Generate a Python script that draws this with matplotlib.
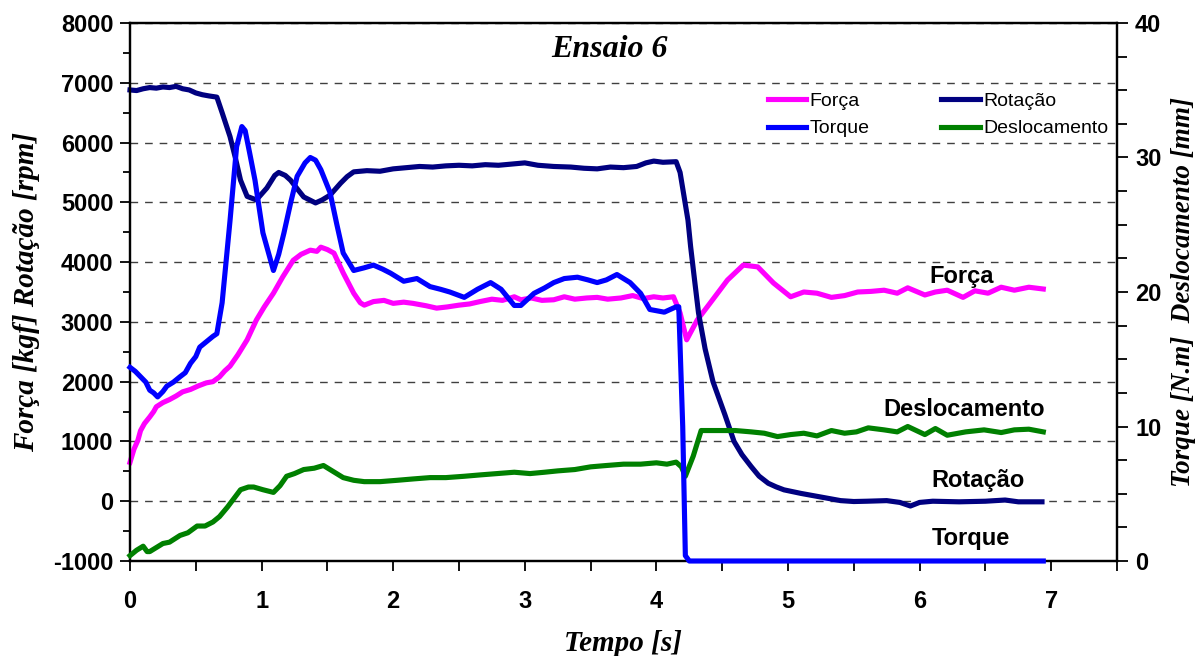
import numpy as np
import matplotlib
matplotlib.use("Agg")
import matplotlib.pyplot as plt
from matplotlib.ticker import MultipleLocator

plt.rcParams['font.family'] = ['Liberation Sans', 'DejaVu Sans']
plt.rcParams['font.weight'] = 'bold'
plt.rcParams['axes.unicode_minus'] = False

# Força [kgf] (left axis)
t_forca = [0.00, 0.03, 0.06, 0.08, 0.11, 0.15, 0.18, 0.20, 0.25, 0.30,
           0.35, 0.40, 0.46, 0.52, 0.58, 0.63, 0.68, 0.72, 0.76, 0.82,
           0.89, 0.96, 1.02, 1.09, 1.16, 1.24, 1.30, 1.37, 1.42, 1.45,
           1.50, 1.55, 1.62, 1.70, 1.75, 1.78, 1.85, 1.93, 2.00, 2.08,
           2.15, 2.25, 2.33, 2.41, 2.50, 2.58, 2.66, 2.75, 2.83, 2.92,
           2.97, 3.05, 3.13, 3.22, 3.30, 3.38, 3.47, 3.55, 3.63, 3.73,
           3.82, 3.90, 3.98, 4.05, 4.13, 4.18, 4.23, 4.31, 4.41, 4.54,
           4.66, 4.77, 4.89, 5.02, 5.12, 5.22, 5.33, 5.43, 5.53, 5.63,
           5.73, 5.83, 5.91, 6.04, 6.12, 6.21, 6.33, 6.42, 6.52, 6.62,
           6.72, 6.83, 6.94]
forca = [650, 870, 1020, 1180, 1300, 1410, 1500, 1580, 1650, 1700,
         1760, 1830, 1870, 1930, 1980, 2000, 2080, 2180, 2260, 2450,
         2700, 3030, 3250, 3480, 3750, 4030, 4130, 4200, 4180, 4250,
         4210, 4150, 3820, 3480, 3320, 3280, 3340, 3360, 3310, 3330,
         3310, 3270, 3230, 3250, 3280, 3300, 3340, 3380, 3360, 3420,
         3370, 3400, 3360, 3370, 3420, 3380, 3400, 3410, 3380, 3400,
         3440, 3390, 3420, 3400, 3420, 3150, 2700, 3030, 3320, 3700,
         3950, 3920, 3650, 3420, 3500, 3480, 3410, 3440, 3500, 3510,
         3530, 3480, 3570, 3450, 3500, 3530, 3410, 3520, 3480, 3580,
         3530, 3580, 3550]

# Rotação [rpm] (left axis)
t_rot = [0.00, 0.05, 0.10, 0.15, 0.20, 0.25, 0.30, 0.35, 0.40, 0.45,
         0.50, 0.55, 0.60, 0.66, 0.70, 0.76, 0.80, 0.84, 0.89, 0.96,
         1.04, 1.10, 1.13, 1.18, 1.22, 1.28, 1.32, 1.41, 1.46, 1.52,
         1.60, 1.65, 1.70, 1.80, 1.90, 2.00, 2.10, 2.20, 2.30, 2.40,
         2.50, 2.60, 2.70, 2.80, 2.90, 3.00, 3.10, 3.22, 3.35, 3.45,
         3.55, 3.65, 3.75, 3.85, 3.92, 3.98, 4.05, 4.15, 4.18, 4.21,
         4.24, 4.26, 4.29, 4.32, 4.37, 4.43, 4.52, 4.59, 4.65, 4.72,
         4.78, 4.85, 4.91, 4.97, 5.10, 5.25, 5.40, 5.50, 5.60, 5.75,
         5.85, 5.93, 6.00, 6.10, 6.30, 6.50, 6.65, 6.75, 6.93]
rot = [6880, 6870, 6900, 6920, 6910, 6930, 6920, 6940, 6900, 6880,
       6830, 6800, 6780, 6760, 6500, 6100, 5750, 5370, 5100, 5040,
       5240, 5450, 5500, 5450, 5370, 5200, 5090, 4990, 5040, 5120,
       5320, 5430, 5510, 5530, 5520, 5560, 5580, 5600, 5590, 5610,
       5620, 5610, 5630, 5620, 5640, 5660, 5620, 5600, 5590, 5570,
       5560, 5590, 5580, 5600, 5660, 5690, 5670, 5680, 5500, 5100,
       4700, 4260, 3700, 3150, 2550, 2000, 1450, 1000, 780, 580,
       420, 300, 240, 190, 130, 70, 10, -5, 0, 10,
       -20, -80, -20, 0, -10, 0, 20, -10, -10]

# Torque [N.m] (right axis)
t_torque = [0.00, 0.04, 0.08, 0.12, 0.15, 0.18, 0.21, 0.25, 0.28, 0.33,
            0.38, 0.42, 0.46, 0.50, 0.53, 0.58, 0.63, 0.66, 0.70, 0.76,
            0.81, 0.85, 0.875, 0.91, 0.95, 1.01, 1.09, 1.13, 1.17, 1.22,
            1.27, 1.33, 1.37, 1.41, 1.45, 1.52, 1.57, 1.62, 1.70, 1.78,
            1.85, 1.92, 1.98, 2.08, 2.18, 2.28, 2.36, 2.43, 2.54, 2.64,
            2.74, 2.82, 2.92, 2.97, 3.07, 3.15, 3.22, 3.30, 3.40, 3.48,
            3.55, 3.62, 3.70, 3.80, 3.88, 3.95, 4.06, 4.15, 4.17, 4.20,
            4.22, 4.25, 4.30, 6.94]
torque = [14.4, 14.1, 13.7, 13.3, 12.7, 12.5, 12.2, 12.6, 13.0, 13.3,
          13.7, 14.0, 14.7, 15.2, 15.9, 16.3, 16.7, 16.9, 19.2, 25.3,
          30.8, 32.3, 32.0, 30.3, 28.3, 24.4, 21.6, 22.8, 24.4, 26.6,
          28.6, 29.6, 30.0, 29.8, 29.1, 27.4, 25.1, 22.9, 21.6, 21.8,
          22.0, 21.7, 21.4, 20.8, 21.0, 20.4, 20.2, 20.0, 19.6, 20.2,
          20.7, 20.2, 19.0, 19.0, 19.9, 20.3, 20.7, 21.0, 21.1, 20.9,
          20.7, 20.9, 21.3, 20.7, 19.9, 18.7, 18.5, 18.9, 18.9, 10.0,
          0.4, 0.0, 0.0, 0.0]

# Deslocamento [mm] (right axis)
t_desl = [0.00, 0.05, 0.10, 0.13, 0.15, 0.20, 0.25, 0.30, 0.38, 0.44,
          0.51, 0.57, 0.63, 0.68, 0.74, 0.84, 0.90, 0.94, 1.01, 1.09,
          1.14, 1.19, 1.25, 1.32, 1.40, 1.47, 1.52, 1.57, 1.62, 1.70,
          1.78, 1.90, 2.03, 2.15, 2.28, 2.40, 2.54, 2.66, 2.79, 2.92,
          3.04, 3.15, 3.25, 3.38, 3.50, 3.62, 3.75, 3.88, 4.00, 4.08,
          4.15, 4.19, 4.22, 4.28, 4.34, 4.46, 4.60, 4.72, 4.82, 4.92,
          5.02, 5.12, 5.22, 5.33, 5.43, 5.52, 5.61, 5.73, 5.83, 5.91,
          6.04, 6.12, 6.21, 6.35, 6.49, 6.62, 6.72, 6.83, 6.94]
desl = [0.4, 0.8, 1.1, 0.7, 0.7, 1.0, 1.3, 1.4, 1.9, 2.1,
        2.6, 2.6, 2.9, 3.3, 4.0, 5.3, 5.5, 5.5, 5.3, 5.1,
        5.6, 6.3, 6.5, 6.8, 6.9, 7.1, 6.8, 6.5, 6.2, 6.0,
        5.9, 5.9, 6.0, 6.1, 6.2, 6.2, 6.3, 6.4, 6.5, 6.6,
        6.5, 6.6, 6.7, 6.8, 7.0, 7.1, 7.2, 7.2, 7.3, 7.2,
        7.35, 7.0, 6.3, 7.8, 9.7, 9.7, 9.7, 9.6, 9.5, 9.25,
        9.4, 9.5, 9.3, 9.7, 9.5, 9.6, 9.9, 9.75, 9.6, 10.0,
        9.4, 9.85, 9.35, 9.6, 9.75, 9.55, 9.75, 9.8, 9.6]

serif = dict(family='Liberation Serif', style='italic', weight='bold')

fig = plt.figure(figsize=(12.02, 6.56), dpi=100)
ax1 = fig.add_axes([130 / 1202, 1 - 561 / 656, 987 / 1202, 538 / 656])
ax2 = ax1.twinx()

lw = 3.7
l_forca, = ax1.plot(t_forca, forca, color='#FF00FF', lw=lw, clip_on=False, zorder=3)
l_rot, = ax1.plot(t_rot, rot, color='#000080', lw=lw, clip_on=False, zorder=3)
l_desl, = ax2.plot(t_desl, desl, color='#008000', lw=lw, clip_on=False, zorder=3)
l_torque, = ax2.plot(t_torque, torque, color='#0000FF', lw=lw, clip_on=False, zorder=3)

ax1.set_xlim(0, 7.5)
ax1.set_ylim(-1000, 8000)
ax2.set_ylim(0, 40)
ax1.set_xticks(range(0, 8))
ax1.xaxis.set_minor_locator(MultipleLocator(0.5))
ax1.set_yticks(range(-1000, 8001, 1000))
ax1.yaxis.set_minor_locator(MultipleLocator(500))
ax2.set_yticks(range(0, 41, 10))
ax2.yaxis.set_minor_locator(MultipleLocator(2.5))

ax1.grid(axis='y', color='#404040', lw=1.0, linestyle=(0, (5.5, 5)))
ax1.set_axisbelow(True)

for ax in (ax1, ax2):
    for s in ax.spines.values():
        s.set_linewidth(1.6)
ax1.tick_params(axis='x', which='both', direction='out', length=7, width=1.3, labelsize=17, pad=14)
ax1.tick_params(axis='y', which='major', direction='out', length=7, width=1.3, labelsize=17, pad=5)
ax1.tick_params(axis='y', which='minor', direction='out', length=5, width=1.3)
ax2.tick_params(axis='y', which='major', direction='out', length=8, width=1.3, labelsize=17, pad=5)
ax2.tick_params(axis='y', which='minor', direction='out', length=7, width=1.3)

ax1.set_xlabel('Tempo [s]', fontsize=21, labelpad=12, **serif)
ax1.set_ylabel('Força [kgf] Rotação [rpm]', fontsize=21, labelpad=9, **serif)
ax2.set_ylabel('Torque [N.m]  Deslocamento [mm]', fontsize=19.5, labelpad=7, **serif)

ax1.text(0.486, 0.95, 'Ensaio 6', transform=ax1.transAxes, ha='center', va='center',
         fontsize=23, **serif)

ax1.text(6.32, 3767, 'Força', ha='center', va='center', fontsize=17)
ax1.text(6.34, 1542, 'Deslocamento', ha='center', va='center', fontsize=17)
ax1.text(6.44, 355, 'Rotação', ha='center', va='center', fontsize=17)
ax1.text(6.39, -616, 'Torque', ha='center', va='center', fontsize=17)

ax2.legend([l_forca, l_torque, l_rot, l_desl], ['Força', 'Torque', 'Rotação', 'Deslocamento'],
           ncol=2, loc='upper left', bbox_to_anchor=(0.646, 0.871), frameon=False,
           borderpad=0, borderaxespad=0, handlelength=2.0, handletextpad=0.15,
           columnspacing=3.7, labelspacing=0.5,
           prop={'family': 'Liberation Sans', 'size': 14, 'weight': 'normal'})

fig.savefig('out.png', dpi=100)
